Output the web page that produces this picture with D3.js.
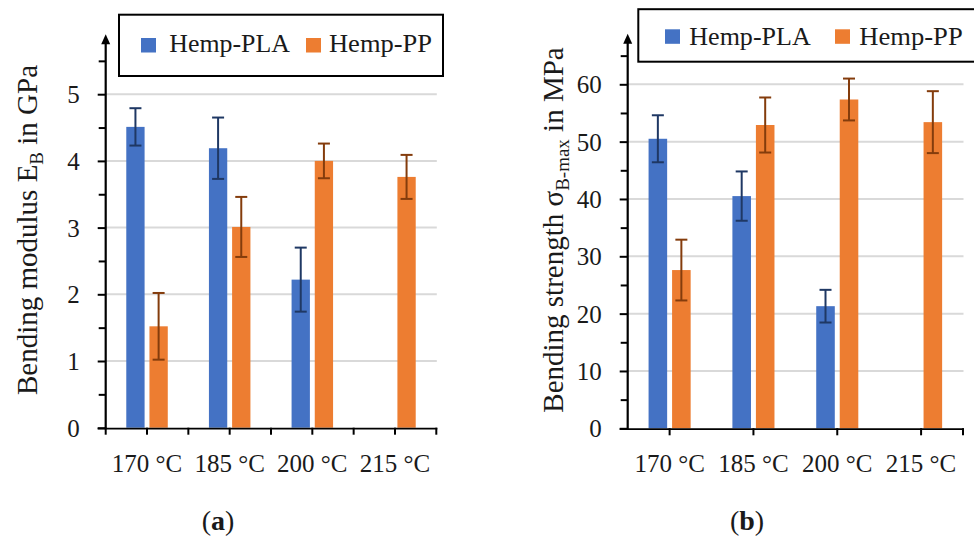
<!DOCTYPE html>
<html>
<head>
<meta charset="utf-8">
<script src="https://cdn.jsdelivr.net/npm/d3@7"></script>
<style>
  html, body { margin: 0; padding: 0; background: #fff; }
  svg { display: block; font-family: "Liberation Serif", "DejaVu Serif", serif; }
</style>
</head>
<body>
<svg id="chart" width="974" height="541"></svg>
<script>
// ---------------- DATA ----------------
const categories = ["170 °C", "185 °C", "200 °C", "215 °C"];
const series = ["Hemp-PLA", "Hemp-PP"];

// (a) Bending modulus in GPa
const modulusPLA    = [4.51, 4.19, 2.22, null];
const modulusPLAErr = [0.28, 0.46, 0.48, null];
const modulusPP     = [1.52, 3.01, 4.00, 3.76];
const modulusPPErr  = [0.50, 0.45, 0.26, 0.33];
const modulusTicks  = [0, 1, 2, 3, 4, 5];
const modulusMinor  = [0.5, 1.5, 2.5, 3.5, 4.5, 5.5];

// (b) Bending strength in MPa
const strengthPLA    = [50.5, 40.5, 21.3, null];
const strengthPLAErr = [4.1, 4.3, 2.85, null];
const strengthPP     = [27.6, 52.9, 57.35, 53.4];
const strengthPPErr  = [5.3, 4.8, 3.65, 5.4];
const strengthTicks  = [0, 10, 20, 30, 40, 50, 60];
const strengthMinor  = [5, 15, 25, 35, 45, 55, 65];

// ---------------- STYLE ----------------
const barColors = { "Hemp-PLA": "#4472c4", "Hemp-PP": "#ed7d31" };
const errColors = { "Hemp-PLA": "#1f3864", "Hemp-PP": "#843c0c" };
const textColor = "#1a1a1a";

const svg = d3.select("#chart");

function drawPanel(cfg) {
  const g = svg.append("g");
  const x = d3.scaleBand().domain(categories).range([cfg.x0, cfg.x1]);
  const bw = x.bandwidth();
  const xs = d3.scaleBand().domain(series).range([0.249 * bw, 0.751 * bw]).paddingInner(0.21);
  const y = d3.scaleLinear().domain([0, cfg.ticks[cfg.ticks.length - 1]]).range([cfg.y0, cfg.yTop]);

  // gridlines
  g.append("g").selectAll("line")
    .data(cfg.ticks.filter(t => t > 0))
    .join("line")
    .attr("x1", cfg.x0).attr("x2", cfg.x1 + 0.5)
    .attr("y1", d => y(d)).attr("y2", d => y(d))
    .attr("stroke", "#d9d9d9").attr("stroke-width", 2);

  // bars
  const rows = [];
  categories.forEach((c, i) => {
    series.forEach((s, j) => {
      const v = cfg.values[j][i];
      if (v != null) rows.push({ c, s, v, e: cfg.errors[j][i] });
    });
  });

  g.append("g").selectAll("rect")
    .data(rows)
    .join("rect")
    .attr("x", d => x(d.c) + xs(d.s))
    .attr("width", xs.bandwidth())
    .attr("y", d => y(d.v))
    .attr("height", d => y(0) - y(d.v))
    .attr("fill", d => barColors[d.s]);

  // error bars
  const eg = g.append("g").selectAll("g")
    .data(rows)
    .join("g")
    .attr("stroke", d => errColors[d.s])
    .attr("stroke-width", 2);
  const cx = d => x(d.c) + xs(d.s) + xs.bandwidth() / 2;
  eg.append("line")
    .attr("x1", cx).attr("x2", cx)
    .attr("y1", d => y(d.v + d.e)).attr("y2", d => y(d.v - d.e));
  eg.append("line")
    .attr("x1", d => cx(d) - 6).attr("x2", d => cx(d) + 6)
    .attr("y1", d => y(d.v + d.e)).attr("y2", d => y(d.v + d.e));
  eg.append("line")
    .attr("x1", d => cx(d) - 6).attr("x2", d => cx(d) + 6)
    .attr("y1", d => y(d.v - d.e)).attr("y2", d => y(d.v - d.e));

  // y axis: major ticks + labels
  const yAxis = g.append("g")
    .attr("transform", `translate(${cfg.x0},0)`)
    .call(d3.axisLeft(y).tickValues(cfg.ticks).tickSize(8).tickPadding(18).tickFormat(d3.format("d")));
  yAxis.select(".domain").remove();
  yAxis.selectAll(".tick line").attr("stroke", "#000").attr("stroke-width", 2);
  yAxis.selectAll(".tick text")
    .attr("font-size", 25).attr("font-family", "Liberation Serif")
    .attr("fill", textColor).attr("dy", "0.34em");

  // y axis: minor ticks
  const yMinor = g.append("g")
    .attr("transform", `translate(${cfg.x0},0)`)
    .call(d3.axisLeft(y).tickValues(cfg.minor).tickSize(7).tickFormat(""));
  yMinor.select(".domain").remove();
  yMinor.selectAll(".tick line").attr("stroke", "#000").attr("stroke-width", 2);

  // y axis line with arrow
  const yTip = y(cfg.arrowVal);
  g.append("line")
    .attr("x1", cfg.x0).attr("x2", cfg.x0)
    .attr("y1", y(0) + 1.5).attr("y2", yTip + 6)
    .attr("stroke", "#000").attr("stroke-width", 2.2);
  g.append("path")
    .attr("d", `M${cfg.x0},${yTip} L${cfg.x0 - 4.5},${yTip + 10} L${cfg.x0 + 4.5},${yTip + 10} Z`)
    .attr("fill", "#000");

  // x axis line
  g.append("line")
    .attr("x1", cfg.x0 - 8).attr("x2", cfg.x1 + 1)
    .attr("y1", y(0) + 0.9).attr("y2", y(0) + 0.9)
    .attr("stroke", "#000").attr("stroke-width", 1.8);

  // x ticks
  let tickPos;
  if (cfg.halfTicks) {
    tickPos = categories.flatMap(c => [x(c), x(c) + bw / 2]).concat([cfg.x1]);
  } else {
    tickPos = categories.map(c => x(c) + bw / 2).concat([cfg.x1]);
  }
  g.append("g").selectAll("line")
    .data(tickPos)
    .join("line")
    .attr("x1", d => d).attr("x2", d => d)
    .attr("y1", y(0)).attr("y2", y(0) + 7)
    .attr("stroke", "#000").attr("stroke-width", 2);

  // category labels
  g.append("g").selectAll("text")
    .data(categories)
    .join("text")
    .attr("x", c => x(c) + bw / 2)
    .attr("y", cfg.labelY)
    .attr("text-anchor", "middle")
    .attr("font-size", 25)
    .attr("fill", textColor)
    .text(c => c);

  // y title
  const t = g.append("text")
    .attr("transform", `translate(${cfg.titleX},${cfg.titleY}) rotate(-90)`)
    .attr("text-anchor", "middle")
    .attr("font-size", 29)
    .attr("fill", textColor);
  t.append("tspan").text(cfg.title[0]);
  t.append("tspan").attr("font-size", 19).attr("dy", 6).text(cfg.title[1]);
  t.append("tspan").attr("dy", -6).text(cfg.title[2]);

  // legend
  const lg = g.append("g");
  lg.append("rect")
    .attr("x", cfg.legend.x).attr("y", cfg.legend.y)
    .attr("width", cfg.legend.w).attr("height", cfg.legend.h)
    .attr("fill", "#fff").attr("stroke", "#000").attr("stroke-width", 2);
  series.forEach((s, j) => {
    const it = cfg.legend.items[j];
    lg.append("rect")
      .attr("x", it.sx).attr("y", cfg.legend.sy)
      .attr("width", 15).attr("height", 14.5)
      .attr("fill", barColors[s]);
    lg.append("text")
      .attr("x", it.tx).attr("y", cfg.legend.ty)
      .attr("font-size", 25)
      .attr("fill", textColor)
      .attr("textLength", it.tw)
      .attr("lengthAdjust", "spacingAndGlyphs")
      .text(s);
  });

  // panel letter
  const pl = g.append("text")
    .attr("x", cfg.letterX).attr("y", 530)
    .attr("text-anchor", "middle")
    .attr("font-size", 28)
    .attr("fill", textColor);
  pl.append("tspan").text("(");
  pl.append("tspan").attr("font-weight", "bold").text(cfg.letter);
  pl.append("tspan").text(")");
}

drawPanel({
  x0: 105.7, x1: 436.3, y0: 427.7, yTop: 94.2,
  ticks: modulusTicks, minor: modulusMinor, arrowVal: 5.9,
  values: [modulusPLA, modulusPP], errors: [modulusPLAErr, modulusPPErr],
  halfTicks: true, labelY: 472,
  title: ["Bending modulus E", "B", " in GPa"], titleX: 37, titleY: 230,
  legend: { x: 119, y: 14.7, w: 324, h: 61.3, sy: 38, ty: 52,
            items: [{ sx: 141, tx: 169.3, tw: 120.7 }, { sx: 306, tx: 329, tw: 103 }] },
  letter: "a", letterX: 218
});

drawPanel({
  x0: 627.7, x1: 963, y0: 428.3, yTop: 84.3,
  ticks: strengthTicks, minor: strengthMinor, arrowVal: 68.8,
  values: [strengthPLA, strengthPP], errors: [strengthPLAErr, strengthPPErr],
  halfTicks: false, labelY: 472,
  title: ["Bending strength σ", "B-max", " in MPa"], titleX: 563, titleY: 230,
  legend: { x: 638.3, y: 9.2, w: 340, h: 52.5, sy: 29.3, ty: 44.5,
            items: [{ sx: 665, tx: 689.3, tw: 121.4 }, { sx: 835, tx: 859.3, tw: 103.4 }] },
  letter: "b", letterX: 747
});
</script>
</body>
</html>
